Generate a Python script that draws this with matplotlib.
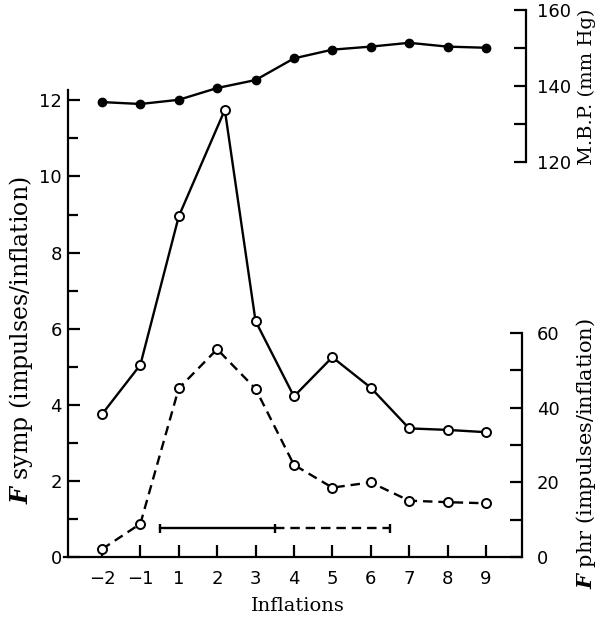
import numpy as np
import matplotlib
matplotlib.use('Agg')
import matplotlib.pyplot as plt
from matplotlib.ticker import FixedLocator

# Inflation numbers on the x axis (there is no inflation 0)
tick_inflations = [-2, -1, 1, 2, 3, 4, 5, 6, 7, 8, 9]
tick_labels = ['\u22122', '\u22121', '1', '2', '3', '4', '5', '6', '7', '8', '9']

# F symp (impulses/inflation) - solid line, open circles
symp_x = [-2, -1, 1, 2.2, 3, 4, 5, 6, 7, 8, 9]
symp_y = [3.75, 5.05, 8.95, 11.75, 6.2, 4.22, 5.25, 4.45, 3.38, 3.34, 3.28]

# F phr (impulses/inflation) - dashed line, open circles
phr_x = [-2, -1, 1, 2, 3, 4, 5, 6, 7, 8, 9]
phr_y = [2.1, 8.9, 45.2, 55.7, 45.1, 24.7, 18.6, 20.0, 15.1, 14.7, 14.4]

# Mean blood pressure (mm Hg) - filled circles
mbp_x = [-2, -1, 1, 2, 3, 4, 5, 6, 7, 8, 9]
mbp_y = [135.8, 135.3, 136.4, 139.5, 141.6, 147.3, 149.6, 150.4, 151.4, 150.4, 150.1]

# Inflation periods: solid part then dashed part
period_solid = [0, 3.5]
period_dashed = [3.5, 6.5]
period_level = 0.76

plt.rcParams['mathtext.fontset'] = 'custom'
plt.rcParams['mathtext.it'] = 'DejaVu Serif:italic:bold'
plt.rcParams['mathtext.rm'] = 'DejaVu Serif'

tick_font = 'DejaVu Sans'
tick_size = 13
label_font = 'DejaVu Serif'


def pos(x):
    # map inflation numbers onto evenly spaced tick positions
    return np.interp(x, tick_inflations, np.arange(len(tick_inflations)))


fig = plt.figure(figsize=(6, 6.2), dpi=100)
ax = fig.add_axes([0.1133, 0.1016, 0.7567, 0.890])
ax.patch.set_alpha(0)

lw = 1.7
ms = 6.5

# main axis: F symp
ax.plot(pos(symp_x), symp_y, '-', color='black', lw=lw, marker='o',
        markersize=ms, markerfacecolor='white', markeredgewidth=1.4, zorder=3)
ax.set_xlim(-0.885, 10.94)
ax.set_ylim(0, 14.5)
ax.spines['top'].set_visible(False)
ax.spines['right'].set_visible(False)
ax.spines['left'].set_bounds(0, 12.26)
ax.spines['bottom'].set_bounds(-1.0, 10.94)
ax.spines['left'].set_linewidth(1.6)
ax.spines['bottom'].set_linewidth(1.6)
ax.yaxis.set_major_locator(FixedLocator([0, 2, 4, 6, 8, 10, 12]))
ax.yaxis.set_minor_locator(FixedLocator([1, 3, 5, 7, 9, 11]))
ax.set_xticks(np.arange(len(tick_inflations)))
ax.set_xticklabels(tick_labels)
ax.tick_params(axis='both', which='both', direction='in', width=1.6)
ax.tick_params(axis='y', which='major', length=8.5, pad=4.5)
ax.tick_params(axis='y', which='minor', length=7.5)
ax.tick_params(axis='x', length=8.5, pad=9)
for lab in ax.get_xticklabels() + ax.get_yticklabels():
    lab.set_fontfamily(tick_font)
    lab.set_fontsize(tick_size)

# inflation period bar
ax.errorbar(pos(period_solid), [period_level] * 2, yerr=[[0.12] * 2, [0.12] * 2],
            color='black', lw=lw, capsize=0, elinewidth=lw, zorder=2)
ax.plot(pos(period_dashed), [period_level] * 2, '--', color='black', lw=lw,
        dashes=(4, 2.5))
ax.vlines(pos(period_dashed[1]), period_level - 0.12, period_level + 0.12,
          color='black', lw=lw)

# lower right axis: F phr
ax2 = ax.twinx()
ax2.plot(pos(phr_x), phr_y, '--', color='black', lw=lw, dashes=(4, 2.5),
         marker='o', markersize=ms, markerfacecolor='white',
         markeredgewidth=1.4, zorder=3)
ax2.set_ylim(0, 147.9)
for s in ['top', 'left', 'bottom']:
    ax2.spines[s].set_visible(False)
ax2.spines['right'].set_bounds(0, 60)
ax2.spines['right'].set_linewidth(1.6)
ax2.yaxis.set_major_locator(FixedLocator([0, 20, 40, 60]))
ax2.yaxis.set_minor_locator(FixedLocator([10, 30, 50]))
ax2.tick_params(axis='y', which='both', direction='in', width=1.6, length=8.5, pad=10.5)
for lab in ax2.get_yticklabels():
    lab.set_fontfamily(tick_font)
    lab.set_fontsize(tick_size)

# upper right axis: M.B.P.
ax3 = ax.twinx()
ax3.plot(pos(mbp_x), mbp_y, '-', color='black', lw=lw, marker='o',
         markersize=6, markerfacecolor='black', zorder=3)
ax3.set_ylim(16.05, 161.3)
for s in ['top', 'left', 'bottom']:
    ax3.spines[s].set_visible(False)
ax3.spines['right'].set_position(('outward', 3))
ax3.spines['right'].set_bounds(120, 160)
ax3.spines['right'].set_linewidth(1.6)
ax3.yaxis.set_major_locator(FixedLocator([120, 140, 160]))
ax3.yaxis.set_minor_locator(FixedLocator([130, 150]))
ax3.tick_params(axis='y', which='both', direction='in', width=1.6, length=8.5, pad=8)
for lab in ax3.get_yticklabels():
    lab.set_fontfamily(tick_font)
    lab.set_fontsize(tick_size)

# axis titles
fig.text(0.496, 0.022, 'Inflations', ha='center', va='center',
         fontfamily=label_font, fontsize=14)
fig.text(0.035, 0.452, r'$\mathit{F}$ symp (impulses/inflation)', rotation=90,
         ha='center', va='center', fontfamily=label_font, fontsize=17)
fig.text(0.976, 0.268, r'$\mathit{F}$ phr (impulses/inflation)', rotation=90,
         ha='center', va='center', fontfamily=label_font, fontsize=15)
fig.text(0.978, 0.860, 'M.B.P. (mm Hg)', rotation=90,
         ha='center', va='center', fontfamily=label_font, fontsize=14)

fig.savefig('out.png', dpi=100)
